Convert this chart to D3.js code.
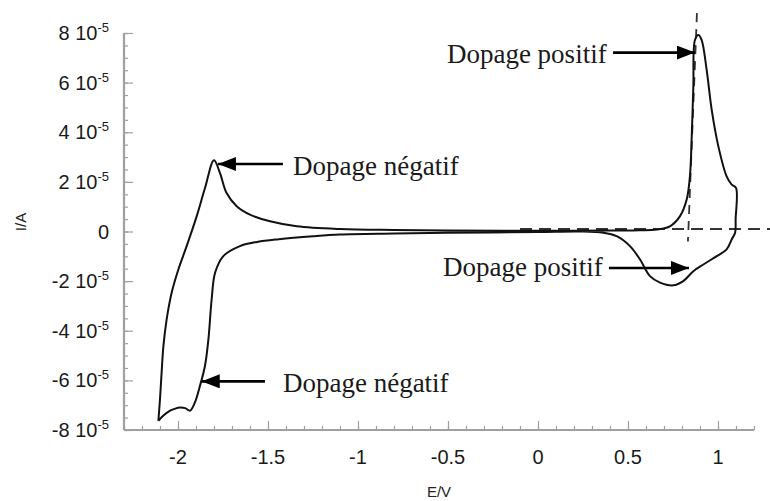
<!DOCTYPE html>
<html>
<head>
<meta charset="utf-8">
<script src="https://cdn.jsdelivr.net/npm/d3@7"></script>
<style>
  body { margin: 0; background: #fff; }
</style>
</head>
<body>
<div id="chart"></div>
<script>
// chart size and margins
const width = 770;
const height = 501;
const margin = {left: 124, right: 16, top: 33, bottom: 70};

// cyclic voltammogram, one closed loop (E in V, I in units of 10^-5 A)
const potential = [
  -2.109, -2.100, -2.091, -2.081, -2.063, -2.035, -1.998, -1.952, -1.896,
  -1.850, -1.800,
  -1.767, -1.730, -1.674, -1.600, -1.489, -1.340, -1.100, -0.800, -0.500,
  -0.200, 0.100, 0.400, 0.567, 0.660, 0.733, 0.789, 0.826, 0.844, 0.854,
  0.863, 0.872, 0.891, 0.909, 0.937, 0.965, 1.002, 1.048, 1.076, 1.100,
  1.098, 1.095, 1.076, 1.048, 0.993, 0.919, 0.863, 0.807, 0.752, 0.678,
  0.622, 0.567, 0.511, 0.437, 0.363, 0.233, 0.000, -0.500, -0.800, -1.100,
  -1.250, -1.440, -1.560, -1.656, -1.748, -1.794, -1.813, -1.831, -1.850,
  -1.878, -1.906, -1.933, -1.960, -1.989, -2.020, -2.044, -2.081, -2.109
];
const current = [
  -7.63, -6.75, -5.68, -4.61, -3.54, -2.46, -1.53, -0.59, 0.62,
  1.75, 2.87,
  2.36, 1.55, 1.02, 0.68, 0.41, 0.21, 0.10, 0.06, 0.04,
  0.03, 0.03, 0.04, 0.05, 0.08, 0.21, 0.62, 1.29, 2.22, 3.83,
  5.84, 7.72, 7.92, 7.72, 6.51, 4.90, 3.43, 2.22, 1.89, 1.76,
  0.50, -0.05, -0.32, -0.72, -0.99, -1.33, -1.60, -2.00, -2.17, -2.06,
  -1.80, -1.13, -0.59, -0.19, -0.05, 0.00, -0.02, -0.05, -0.08, -0.12,
  -0.19, -0.31, -0.42, -0.59, -0.99, -1.66, -2.73, -4.34, -5.41,
  -6.22, -6.89, -7.22, -7.12, -7.09, -7.15, -7.22, -7.42, -7.63
];

// dashed construction lines (baseline and tangent)
const baselineE = [-0.1, 1.29];
const baselineI = [0.1, 0.1];
const tangentE = [0.883, 0.833];
const tangentI = [8.8, -0.4];

// axis ticks
const xTicks = [-2, -1.5, -1, -0.5, 0, 0.5, 1];
const xTickLabels = ["-2", "-1.5", "-1", "-0.5", "0", "0.5", "1"];
const yTicks = [-8, -6, -4, -2, 0, 2, 4, 6, 8];
const yTickLabels = ["-8", "-6", "-4", "-2", "0", "2", "4", "6", "8"];

// annotations (arrow from tail to tip, text in front of the tail)
const noteText = ["Dopage positif", "Dopage négatif", "Dopage négatif", "Dopage positif"];
const noteTailE = [0.417, -1.417, -1.517, 0.394];
const noteTipE = [0.872, -1.778, -1.868, 0.839];
const noteI = [7.21, 2.72, -6.04, -1.47];
const noteTextE = [-0.506, -1.361, -1.417, -0.528];
const noteTextI = [6.79, 2.29, -6.47, -1.81];

const svg = d3.select("#chart")
  .append("svg")
  .attr("width", width)
  .attr("height", height);

// scales
const x = d3.scaleLinear()
  .domain([-2.3, 1.2])
  .range([margin.left, width - margin.right]);

const y = d3.scaleLinear()
  .domain([-8, 8])
  .range([height - margin.bottom - 1, margin.top]);

/* axes */

const axisColor = "#a0a0a0";

// minor ticks
const gxMinor = svg.append("g")
  .attr("transform", `translate(0,${y(-8)})`)
  .call(d3.axisBottom(x)
    .tickValues(d3.range(-23, 13).map(d => d / 10))
    .tickSize(-4)
    .tickFormat(""));

const gyMinor = svg.append("g")
  .attr("transform", `translate(${x(-2.3)},0)`)
  .call(d3.axisLeft(y)
    .tickValues(d3.range(-16, 17).map(d => d / 2))
    .tickSize(-4)
    .tickFormat(""));

// major ticks
const gx = svg.append("g")
  .attr("transform", `translate(0,${y(-8)})`)
  .call(d3.axisBottom(x)
    .tickValues(xTicks)
    .tickSize(-9)
    .tickFormat(""));

const gy = svg.append("g")
  .attr("transform", `translate(${x(-2.3)},0)`)
  .call(d3.axisLeft(y)
    .tickValues(yTicks)
    .tickSize(-9)
    .tickFormat(""));

[gxMinor, gyMinor, gx, gy].forEach(g => {
  g.select(".domain").remove();
  g.selectAll(".tick line").attr("stroke", axisColor).attr("stroke-width", 1.2);
});

// axis lines
svg.append("line")
  .attr("x1", x(-2.3)).attr("x2", x(1.2))
  .attr("y1", y(-8)).attr("y2", y(-8))
  .attr("stroke", axisColor).attr("stroke-width", 2.2);

svg.append("line")
  .attr("x1", x(-2.3)).attr("x2", x(-2.3))
  .attr("y1", y(-8)).attr("y2", y(8))
  .attr("stroke", axisColor).attr("stroke-width", 2.2);

// x tick labels
svg.selectAll(".xlab")
  .data(xTicks)
  .enter()
  .append("text")
  .attr("class", "xlab")
  .attr("x", d => x(d))
  .attr("y", y(-8) + 34)
  .attr("text-anchor", "middle")
  .attr("font-family", "Liberation Sans, Arial, sans-serif")
  .attr("font-size", "20px")
  .attr("fill", "#1a1a1a")
  .text((d, i) => xTickLabels[i]);

// y tick labels with the 10^-5 factor
const ylab = svg.selectAll(".ylab")
  .data(yTicks)
  .enter()
  .append("text")
  .attr("class", "ylab")
  .attr("x", x(-2.3) - 15)
  .attr("y", d => y(d) + 7)
  .attr("text-anchor", "end")
  .attr("font-family", "Liberation Sans, Arial, sans-serif")
  .attr("font-size", "20px")
  .attr("fill", "#1a1a1a");

ylab.each(function(d, i) {
  const t = d3.select(this);
  if (d === 0) {
    t.text(yTickLabels[i]);
    return;
  }
  t.append("tspan").text(yTickLabels[i] + " 10");
  t.append("tspan")
    .attr("dy", -8)
    .attr("font-size", "13px")
    .text("-5");
});

// axis titles
svg.append("text")
  .attr("x", (x(-2.3) + x(1.2)) / 2)
  .attr("y", 497)
  .attr("text-anchor", "middle")
  .attr("font-family", "Liberation Sans, Arial, sans-serif")
  .attr("font-size", "15px")
  .attr("fill", "#222")
  .text("E/V");

svg.append("text")
  .attr("transform", `translate(26,222) rotate(-90)`)
  .attr("text-anchor", "middle")
  .attr("font-family", "Liberation Sans, Arial, sans-serif")
  .attr("font-size", "15px")
  .attr("fill", "#222")
  .text("I/A");

/* dashed lines */

const dashLine = d3.line()
  .x(d => x(d[0]))
  .y(d => y(d[1]));

svg.append("path")
  .attr("d", dashLine(d3.zip(baselineE, baselineI)))
  .attr("fill", "none")
  .attr("stroke", "#333")
  .attr("stroke-width", 1.8)
  .attr("stroke-dasharray", "12,7");

svg.append("path")
  .attr("d", dashLine(d3.zip(tangentE, tangentI)))
  .attr("fill", "none")
  .attr("stroke", "#333")
  .attr("stroke-width", 1.8)
  .attr("stroke-dasharray", "9,7");

/* voltammogram */

const cvLine = d3.line()
  .x(d => x(d[0]))
  .y(d => y(d[1]))
  .curve(d3.curveCatmullRom.alpha(0.5));

svg.append("path")
  .attr("d", cvLine(d3.zip(potential, current)))
  .attr("fill", "none")
  .attr("stroke", "#111")
  .attr("stroke-width", 2)
  .attr("stroke-linejoin", "round");

/* annotations */

svg.append("defs")
  .append("marker")
  .attr("id", "head")
  .attr("markerUnits", "userSpaceOnUse")
  .attr("viewBox", "0 0 18 14")
  .attr("refX", 18)
  .attr("refY", 7)
  .attr("markerWidth", 18)
  .attr("markerHeight", 14)
  .attr("orient", "auto")
  .append("path")
  .attr("d", "M0,0 L18,7 L0,14 Z")
  .attr("fill", "#000");

noteText.forEach((txt, i) => {
  svg.append("line")
    .attr("x1", x(noteTailE[i]))
    .attr("x2", x(noteTipE[i]))
    .attr("y1", y(noteI[i]))
    .attr("y2", y(noteI[i]))
    .attr("stroke", "#000")
    .attr("stroke-width", 2.6)
    .attr("marker-end", "url(#head)");

  svg.append("text")
    .attr("x", x(noteTextE[i]))
    .attr("y", y(noteTextI[i]))
    .attr("font-family", "Liberation Serif, Times New Roman, serif")
    .attr("font-size", "27px")
    .attr("fill", "#1a1a1a")
    .text(txt);
});
</script>
</body>
</html>
